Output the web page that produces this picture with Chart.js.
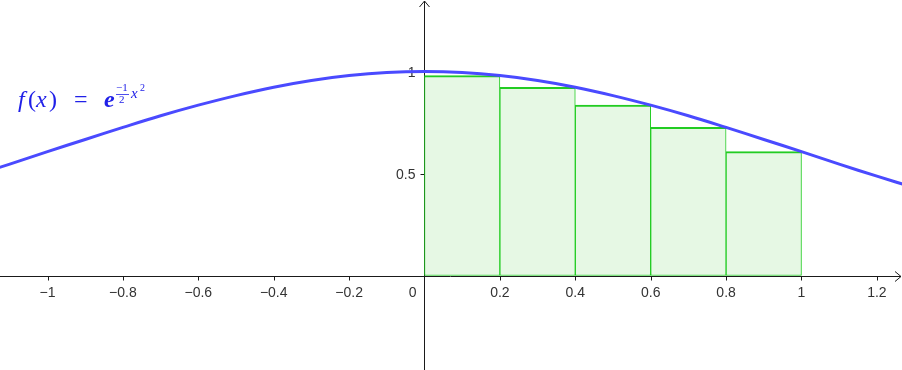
<!DOCTYPE html>
<html>
<head>
<meta charset="utf-8">
<script src="https://cdn.jsdelivr.net/npm/chart.js@4/dist/chart.umd.min.js"></script>
<style>
  html, body { margin: 0; padding: 0; background: #fff; }
  #plot { display: block; }
</style>
</head>
<body>
<canvas id="plot" width="902" height="370"></canvas>
<script>
// curve samples f(x) = e^(-x^2/2)
const curveX = [-1.2, -1.1, -1.0, -0.9, -0.8, -0.7, -0.6, -0.5, -0.4, -0.3, -0.2, -0.1, 0,
  0.1, 0.2, 0.3, 0.4, 0.5, 0.6, 0.7, 0.8, 0.9, 1.0, 1.1, 1.2, 1.3];
const curveY = [0.487, 0.546, 0.607, 0.667, 0.726, 0.783, 0.835, 0.882, 0.923, 0.956, 0.980, 0.995, 1,
  0.995, 0.980, 0.956, 0.923, 0.882, 0.835, 0.783, 0.726, 0.667, 0.607, 0.546, 0.487, 0.430];

// rectangles (lower sum, 5 strips on [0, 1])
const rectMid = [0.1, 0.3, 0.5, 0.7, 0.9];
const rectHeight = [0.980, 0.923, 0.835, 0.726, 0.607];

// axis ticks
const xTicks = [-1, -0.8, -0.6, -0.4, -0.2, 0, 0.2, 0.4, 0.6, 0.8, 1, 1.2];
const xTickLabels = ["\u22121", "\u22120.8", "\u22120.6", "\u22120.4", "\u22120.2", "0", "0.2", "0.4", "0.6", "0.8", "1", "1.2"];
const yTicks = [0.5, 1];
const yTickLabels = ["0.5", "1"];

// draws the axes (under the data) and the formula (on top)
const axesPlugin = {
  id: "axesPlugin",
  beforeDatasetsDraw(chart) {
    const ctx = chart.ctx;
    const xs = chart.scales.x;
    const ys = chart.scales.y;
    const x0 = Math.round(xs.getPixelForValue(0)) + 0.5;
    const y0 = Math.round(ys.getPixelForValue(0)) + 0.5;
    const W = chart.width;
    ctx.save();
    ctx.strokeStyle = "#1a1a1a";
    ctx.lineWidth = 1;
    ctx.beginPath();
    ctx.moveTo(0, y0); ctx.lineTo(W - 1, y0);
    ctx.moveTo(x0, chart.height); ctx.lineTo(x0, 1);
    // arrows
    ctx.moveTo(W - 7, y0 - 5); ctx.lineTo(W - 1, y0); ctx.lineTo(W - 7, y0 + 5);
    ctx.moveTo(x0 - 5, 7); ctx.lineTo(x0, 1); ctx.lineTo(x0 + 5, 7);
    // ticks
    xTicks.forEach(function (v) {
      if (v === 0) return;
      const px = Math.round(xs.getPixelForValue(v)) + 0.5;
      ctx.moveTo(px, y0); ctx.lineTo(px, y0 + 4);
    });
    yTicks.forEach(function (v) {
      const py = Math.round(ys.getPixelForValue(v)) + 0.5;
      ctx.moveTo(x0 - 4, py); ctx.lineTo(x0, py);
    });
    ctx.stroke();

    ctx.fillStyle = "#333";
    ctx.font = "14px 'Liberation Sans', Arial, sans-serif";
    ctx.textBaseline = "alphabetic";
    xTicks.forEach(function (v, i) {
      const px = xs.getPixelForValue(v);
      if (v === 0) {
        ctx.textAlign = "right";
        ctx.fillText(xTickLabels[i], x0 - 8, y0 + 20);
      } else {
        ctx.textAlign = "center";
        ctx.fillText(xTickLabels[i], px, y0 + 20);
      }
    });
    ctx.textAlign = "right";
    yTicks.forEach(function (v, i) {
      const py = ys.getPixelForValue(v);
      ctx.fillText(yTickLabels[i], x0 - 9, py + 5);
    });
    ctx.restore();
  },
  afterDraw(chart) {
    const ctx = chart.ctx;
    ctx.save();
    ctx.fillStyle = "#2020e8";
    ctx.strokeStyle = "#2020e8";
    ctx.textAlign = "left";
    ctx.textBaseline = "alphabetic";
    // f(x) with upright brackets
    ctx.font = "italic 24px 'Liberation Serif', serif";
    ctx.fillText("f", 18, 107);
    ctx.fillText("x", 36, 107);
    ctx.font = "24px 'Liberation Serif', serif";
    ctx.fillText("(", 28, 107);
    ctx.fillText(")", 49, 107);
    ctx.fillText("=", 74, 107);
    ctx.font = "bold italic 24px 'Liberation Serif', serif";
    ctx.fillText("e", 104, 107);
    // exponent: (-1/2) x^2
    ctx.font = "11px 'Liberation Serif', serif";
    ctx.fillText("\u22121", 116, 91);
    ctx.fillText("2", 119, 103);
    ctx.lineWidth = 0.8;
    ctx.beginPath();
    ctx.moveTo(116, 94.5); ctx.lineTo(129, 94.5);
    ctx.stroke();
    ctx.font = "italic 15px 'Liberation Serif', serif";
    ctx.fillText("x", 131, 98);
    ctx.font = "10px 'Liberation Serif', serif";
    ctx.fillText("2", 140, 91);
    ctx.restore();
  }
};

new Chart(document.getElementById("plot"), {
  type: "bar",
  data: {
    datasets: [
      {
        type: "line",
        data: curveX.map(function (x, i) { return { x: x, y: curveY[i] }; }),
        borderColor: "#4a4aff",
        borderWidth: 3,
        pointRadius: 0,
        tension: 0.4,
        fill: false,
        order: 0
      },
      {
        type: "bar",
        data: rectMid.map(function (x, i) { return { x: x, y: rectHeight[i] }; }),
        backgroundColor: "#e6f8e4",
        borderColor: "#22cc22",
        borderWidth: { top: 2, left: 1, right: 1, bottom: 1 },
        borderSkipped: false,
        barPercentage: 1,
        categoryPercentage: 1,
        grouped: false,
        order: 1
      }
    ]
  },
  options: {
    responsive: false,
    animation: false,
    events: [],
    layout: { padding: 0 },
    plugins: { legend: { display: false }, tooltip: { enabled: false } },
    scales: {
      x: { type: "linear", min: -1.126, max: 1.2666, offset: false, display: false },
      y: { type: "linear", min: -0.463, max: 1.3505, display: false }
    }
  },
  plugins: [axesPlugin]
});
</script>
</body>
</html>
